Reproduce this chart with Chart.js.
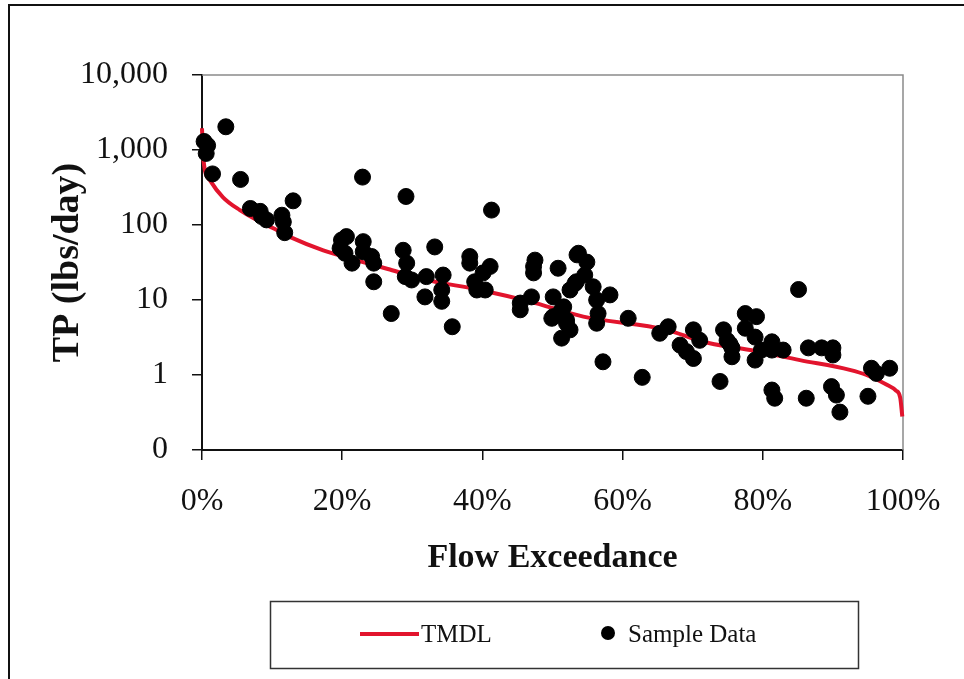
<!DOCTYPE html>
<html lang="en">
<head>
<meta charset="UTF-8">
<title>TP Load Duration Curve</title>
<style>
  html, body { margin: 0; padding: 0; background: #fff; }
  body { width: 964px; height: 679px; position: relative; overflow: hidden; }
  .frame {
    position: absolute; left: 8px; top: 4px; right: -10px; bottom: -10px;
    border-top: 2px solid #111; border-left: 2px solid #111;
  }
  #chart { position: absolute; left: 0; top: 0; }
</style>
<script src="https://cdn.jsdelivr.net/npm/chart.js"></script>
</head>
<body>
<div class="frame"></div>
<canvas id="chart" width="964" height="679"></canvas>
<script>
// TMDL curve (flow exceedance %, lbs/day)
const tmdlX = [0, 0.2, 1.1, 3, 5.4, 7.8, 10.1, 12.6, 17.3, 22, 26.8, 31.5, 39.7, 46.8, 54.4, 66.3, 71.3, 78.2, 85.3, 92.4, 94.8, 97.7, 99.0, 99.6, 99.9];
const tmdlY = [1950, 740, 400, 234, 158, 117, 91, 69, 46, 34, 25.5, 19, 13.6, 9.5, 6, 4, 2.8, 2.15, 1.58, 1.17, 1.0, 0.74, 0.62, 0.5, 0.28];

// sample data (flow exceedance %, lbs/day)
const sampleX = [0.3, 0.8, 0.6, 3.4, 1.5, 5.5, 13.0, 6.9, 8.3, 8.5, 9.2, 11.4, 11.6, 11.8,
  22.9, 29.1, 19.9, 20.6, 19.7, 20.4, 21.4, 23.0, 23.0, 24.2, 24.5, 24.5, 27.0, 28.7, 29.2, 29.0,
  29.9, 33.2, 32.0, 31.8, 34.4, 34.2, 34.2, 35.7, 38.2, 38.2, 38.9, 40.1, 41.1, 39.2, 40.4, 41.3,
  45.4, 45.4, 47.0, 47.5, 47.3, 47.3, 50.8, 53.5, 53.2, 52.5, 50.1, 49.9, 51.6, 52.0, 51.3, 52.5,
  50.1, 51.3, 52.0, 53.7, 54.9, 54.6, 53.4, 55.8, 56.3, 56.5, 56.3, 58.2, 57.2, 60.8, 62.8, 65.3,
  66.5, 68.2, 70.1, 71.0, 69.1, 70.1, 73.9, 74.4, 74.9, 75.6, 75.6, 77.5, 79.1, 77.5, 78.9, 75.3,
  78.9, 81.3, 81.3, 82.9, 79.8, 85.1, 86.5, 88.4, 90.0, 90.0, 81.3, 81.7, 86.2, 89.8, 90.5, 91.0,
  95.0, 95.5, 96.2, 98.1];
const sampleY = [1300, 1150, 900, 2040, 480, 405, 210, 166, 152, 130, 117, 135, 110, 79,
  435, 240, 63, 70, 49, 42, 31, 60, 44, 38, 31, 17.5, 6.6, 46, 31, 20.5,
  18.5, 51, 20.5, 11, 21.5, 13.6, 9.6, 4.4, 38, 31, 17.5, 23, 28, 13.6, 13.6, 158,
  7.4, 9.1, 11, 34, 28, 23, 26.5, 40, 16.6, 13.6, 11, 5.7, 8.1, 5.4, 3.1, 4,
  6, 7.4, 4.9, 42, 32, 21.5, 17.5, 15, 10, 6.6, 4.9, 11.7, 1.5, 5.7, 0.93, 3.6,
  4.4, 2.5, 4, 2.9, 2.05, 1.66, 0.82, 4, 2.9, 2.3, 1.75, 6.6, 6, 4.2, 3.2, 2.6,
  1.58, 2.77, 2.15, 2.15, 2.15, 13.8, 2.3, 2.3, 2.3, 1.85, 0.63, 0.49, 0.49, 0.7, 0.54, 0.32,
  0.52, 1.23, 1.05, 1.23];

const yTickValues = [0.1, 1, 10, 100, 1000, 10000];
const yTickLabels = ['0', '1', '10', '100', '1,000', '10,000'];
const xTickValues = [0, 20, 40, 60, 80, 100];
const xTickLabels = ['0%', '20%', '40%', '60%', '80%', '100%'];

const tmdlColor = '#e2142d';
const serif = '"Liberation Serif", "Times New Roman", serif';

// gray top/right edges of the plot area
const plotFrame = {
  id: 'plotFrame',
  beforeDatasetsDraw(chart) {
    const { ctx, chartArea: a } = chart;
    ctx.save();
    ctx.strokeStyle = '#8a8a8a';
    ctx.lineWidth = 1.5;
    ctx.beginPath();
    ctx.moveTo(a.left, a.top);
    ctx.lineTo(a.right, a.top);
    ctx.lineTo(a.right, a.bottom);
    ctx.stroke();
    ctx.restore();
  }
};

// boxed legend under the x axis title
const boxLegend = {
  id: 'boxLegend',
  afterDraw(chart) {
    const ctx = chart.ctx;
    const ds = chart.data.datasets;
    ctx.save();
    ctx.strokeStyle = '#333';
    ctx.lineWidth = 1.5;
    ctx.strokeRect(270.5, 601.5, 588, 67);

    ctx.strokeStyle = tmdlColor;
    ctx.lineWidth = 4;
    ctx.beginPath();
    ctx.moveTo(360, 634);
    ctx.lineTo(419, 634);
    ctx.stroke();

    ctx.fillStyle = '#111';
    ctx.font = '25px ' + serif;
    ctx.textBaseline = 'middle';
    ctx.fillText(ds[0].label, 421, 635);

    ctx.beginPath();
    ctx.arc(608, 633, 7, 0, Math.PI * 2);
    ctx.fillStyle = '#000';
    ctx.fill();

    ctx.fillStyle = '#111';
    ctx.fillText(ds[1].label, 628, 635);
    ctx.restore();
  }
};

new Chart(document.getElementById('chart'), {
  type: 'scatter',
  data: {
    datasets: [
      {
        label: 'TMDL',
        type: 'line',
        data: tmdlX.map((x, i) => ({ x: x, y: tmdlY[i] })),
        borderColor: tmdlColor,
        borderWidth: 4,
        pointRadius: 0,
        cubicInterpolationMode: 'monotone',
        fill: false,
        clip: false,
        order: 2
      },
      {
        label: 'Sample Data',
        data: sampleX.map((x, i) => ({ x: x, y: sampleY[i] })),
        backgroundColor: '#000',
        borderColor: '#000',
        pointRadius: 8,
        pointHoverRadius: 8,
        clip: false,
        order: 1
      }
    ]
  },
  options: {
    responsive: false,
    animation: false,
    events: [],
    layout: { padding: { left: 0, top: 75, right: 61, bottom: 0 } },
    plugins: {
      legend: { display: false },
      tooltip: { enabled: false }
    },
    scales: {
      x: {
        type: 'linear',
        min: 0,
        max: 100,
        afterBuildTicks: s => { s.ticks = xTickValues.map(v => ({ value: v })); },
        afterFit: s => { s.height = 229; },
        ticks: {
          color: '#111',
          font: { family: serif, size: 32 },
          padding: 22,
          maxRotation: 0,
          callback: v => xTickLabels[xTickValues.indexOf(v)]
        },
        grid: { drawOnChartArea: false, drawTicks: true, tickLength: 10, color: '#111', lineWidth: 1.5 },
        border: { display: true, color: '#111', width: 2 },
        title: {
          display: true,
          text: 'Flow Exceedance',
          color: '#111',
          font: { family: serif, size: 34, weight: 'bold' },
          padding: { top: 0, bottom: 100 }
        }
      },
      y: {
        type: 'logarithmic',
        min: 0.1,
        max: 10000,
        afterBuildTicks: s => { s.ticks = yTickValues.map(v => ({ value: v })); },
        afterFit: s => { s.width = 202; },
        ticks: {
          color: '#111',
          font: { family: serif, size: 32 },
          padding: 24,
          callback: v => yTickLabels[yTickValues.indexOf(v)]
        },
        grid: { drawOnChartArea: false, drawTicks: true, tickLength: 10, color: '#111', lineWidth: 1.5 },
        border: { display: true, color: '#111', width: 2 },
        title: {
          display: true,
          text: 'TP (lbs/day)',
          color: '#111',
          font: { family: serif, size: 38, weight: 'bold' },
          padding: { top: 45, bottom: 0 }
        }
      }
    }
  },
  plugins: [plotFrame, boxLegend]
});
</script>
</body>
</html>
